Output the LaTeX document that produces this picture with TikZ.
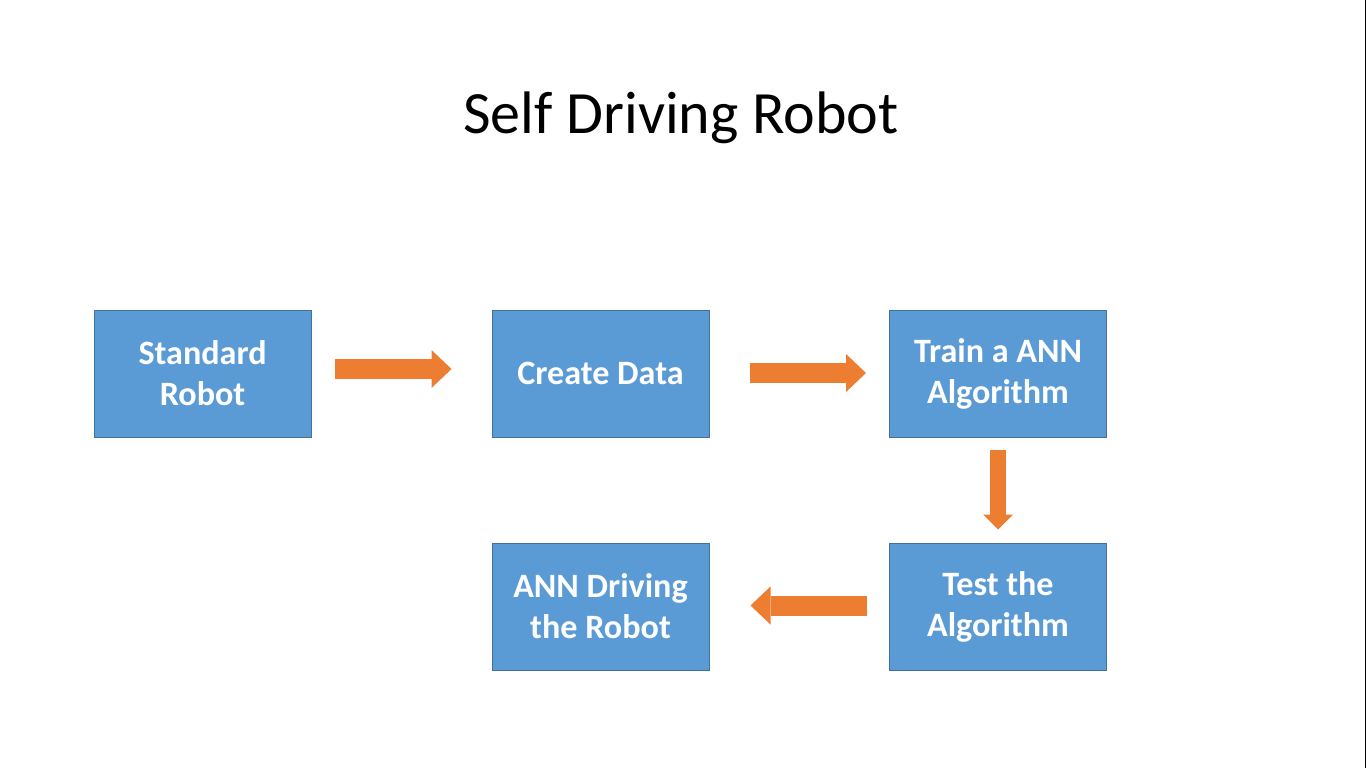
\documentclass[tikz,border=0pt]{standalone}
\usepackage{fontspec}
\setmainfont{Carlito}
\usetikzlibrary{arrows.meta}
\definecolor{boxblue}{HTML}{5B9BD5}
\definecolor{boxedge}{HTML}{41719C}
\definecolor{flow}{HTML}{ED7D31}

\begin{document}
\begin{tikzpicture}[x=0.75pt, y=-0.75pt,
  stage/.style={draw=boxedge, line width=0.75pt, fill=boxblue, text=white,
    minimum width=162.75pt, minimum height=95.25pt, inner sep=0pt, align=center,
    font=\bfseries\fontsize{25.6pt}{30.75pt}\selectfont},
  fatarrow/.style={draw=flow, line width=15pt,
    -{Triangle[length=15pt, width=28.5pt, line width=0pt, fill=flow]}},
  thinarrow/.style={draw=flow, line width=12pt,
    -{Triangle[length=11.25pt, width=22.5pt, line width=0pt, fill=flow]}}]
\fill[white] (0, 0) rectangle (1366, 768);
\useasboundingbox (0, 0) rectangle (1366, 768);
\fill[black] (1365, 0) rectangle (1366, 768);

\node[anchor=base, font=\fontsize{45pt}{54pt}\selectfont] (title) at (681, 133) {Self Driving Robot};

\node[stage] (std) at (202.5, 373.5) {Standard\\Robot};
\node[stage] (data) at (600.5, 373.5) {Create Data};
\node[stage] (train) at (998, 373.5) {Train a ANN\\Algorithm};
\node[stage] (test) at (998, 606.5) {Test the\\Algorithm};
\node[stage] (drive) at (600.5, 606.5) {ANN Driving\\the Robot};

\draw[fatarrow] ([shift={(23, -4.5)}]std.east) -- ([shift={(-40, -4.5)}]data.west);
\draw[fatarrow] ([shift={(40, -0.5)}]data.east) -- ([shift={(-23, -0.5)}]train.west);
\draw[thinarrow] ([shift={(0, 12)}]train.south) -- ([shift={(0, -13)}]test.north);
\draw[fatarrow] ([shift={(-22, -1)}]test.west) -- ([shift={(41, -1)}]drive.east);

\end{tikzpicture}
\end{document}
